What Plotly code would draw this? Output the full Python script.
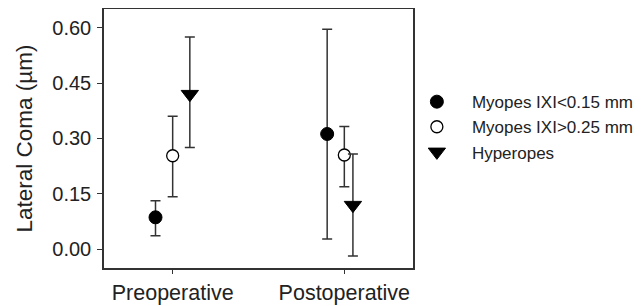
import plotly.graph_objects as go

categories = ["Preoperative", "Postoperative"]
series_names = ["Myopes IXI<0.15 mm", "Myopes IXI>0.25 mm", "Hyperopes"]

myopes_small_mean = [0.086, 0.312]
myopes_small_upper = [0.131, 0.596]
myopes_small_lower = [0.036, 0.027]

myopes_large_mean = [0.253, 0.255]
myopes_large_upper = [0.360, 0.332]
myopes_large_lower = [0.142, 0.169]

hyperopes_mean = [0.420, 0.119]
hyperopes_upper = [0.575, 0.258]
hyperopes_lower = [0.275, -0.019]

y_ticks = [0.00, 0.15, 0.30, 0.45, 0.60]

series = [
    (series_names[0], myopes_small_mean, myopes_small_upper, myopes_small_lower),
    (series_names[1], myopes_large_mean, myopes_large_upper, myopes_large_lower),
    (series_names[2], hyperopes_mean, hyperopes_upper, hyperopes_lower),
]
offsets = [[-0.1, -0.1], [0.0, 0.0], [0.1, 0.05]]
styles = [
    dict(symbol="circle", size=13, color="black", line=dict(color="black", width=1)),
    dict(symbol="circle", size=12, color="white", line=dict(color="black", width=1.3)),
    dict(symbol="triangle-down", size=15, color="black", line=dict(color="black", width=1)),
]

fig = go.Figure()
base_x = list(range(1, len(categories) + 1))
for (name, mean, up, lo), off, st in zip(series, offsets, styles):
    xs = [b + o for b, o in zip(base_x, off)]
    fig.add_trace(go.Scatter(
        x=xs, y=mean, mode="markers", name=name,
        marker=st,
        error_y=dict(type="data", symmetric=False,
                     array=[u - m for u, m in zip(up, mean)],
                     arrayminus=[m - l for m, l in zip(mean, lo)],
                     color="#333333", thickness=1.5, width=5),
    ))

fig.update_layout(
    width=636, height=298,
    margin=dict(l=96, r=231, t=1, b=38, autoexpand=False),
    paper_bgcolor="white", plot_bgcolor="white",
    font=dict(family="Liberation Sans, Arial, sans-serif", color="#222222"),
    showlegend=True,
    legend=dict(x=0.964, y=0.71, xanchor="left", yanchor="top",
                font=dict(size=17), itemwidth=60, tracegroupgap=0,
                bgcolor="rgba(0,0,0,0)"),
    xaxis=dict(range=[0.6, 2.4], tickvals=base_x, ticktext=categories,
               showgrid=False, zeroline=False, showline=True, linecolor="#333333",
               linewidth=1.5, mirror=True, ticks="outside", ticklen=4,
               tickcolor="#333333", tickfont=dict(size=21.5), automargin=False),
    yaxis=dict(range=[-0.0515, 0.651], tickvals=y_ticks, tickformat=".2f",
               showgrid=False, zeroline=False, showline=True, linecolor="#333333",
               linewidth=1.5, mirror=True, ticks="outside", ticklen=5,
               tickcolor="#333333", tickfont=dict(size=20), automargin=False,
               ticklabelstandoff=2,
               title=dict(text="Lateral Coma (µm)", font=dict(size=22.5), standoff=13)),
)

fig.write_html("out.html")
